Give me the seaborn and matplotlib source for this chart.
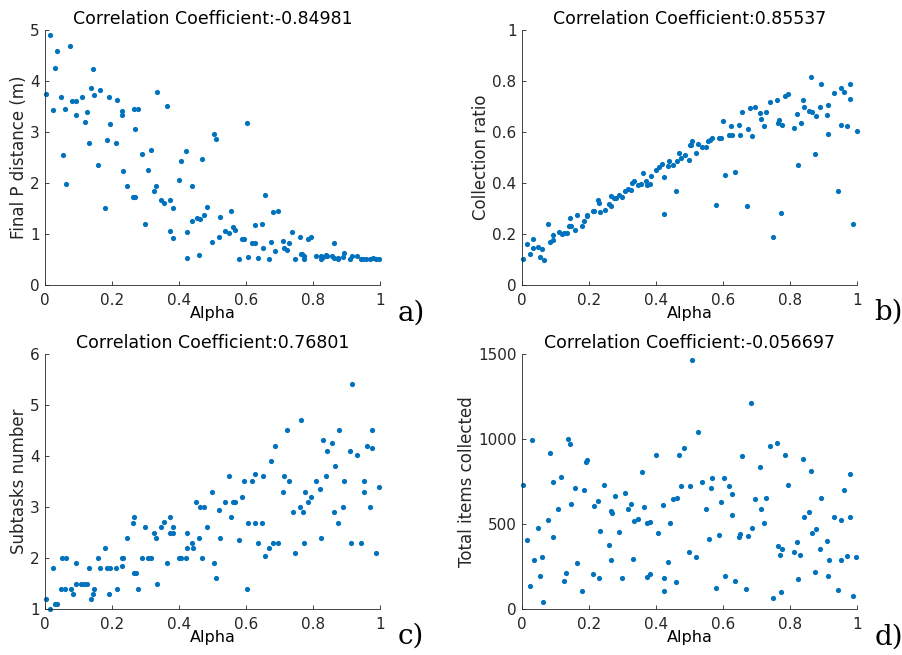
import numpy as np
import pandas as pd
import matplotlib
matplotlib.use("Agg")
import matplotlib.pyplot as plt
import seaborn as sns

# a) final P distance
alpha_a = [0.014, 0.035, 0.076, 0.030, 0.143, 0.002, 0.137, 0.146, 0.164, 0.049,
           0.082, 0.092, 0.110, 0.192, 0.216, 0.025, 0.059, 0.093, 0.124, 0.118,
           0.194, 0.229, 0.229, 0.266, 0.279, 0.335, 0.363, 0.270, 0.131, 0.185,
           0.212, 0.053, 0.157, 0.290, 0.317, 0.308, 0.233, 0.064, 0.246, 0.330,
           0.324, 0.262, 0.268, 0.179, 0.299, 0.346, 0.356, 0.374, 0.382, 0.372,
           0.382, 0.400, 0.407, 0.420, 0.470, 0.440, 0.424, 0.424, 0.459, 0.438,
           0.453, 0.464, 0.474, 0.485, 0.504, 0.510, 0.500, 0.518, 0.522, 0.602,
           0.536, 0.550, 0.556, 0.562, 0.567, 0.578, 0.588, 0.593, 0.607, 0.619,
           0.626, 0.626, 0.635, 0.648, 0.650, 0.657, 0.670, 0.674, 0.682, 0.696,
           0.688, 0.711, 0.713, 0.721, 0.727, 0.738, 0.747, 0.760, 0.764, 0.768,
           0.774, 0.774, 0.784, 0.793, 0.810, 0.823, 0.825, 0.830, 0.840, 0.843,
           0.856, 0.864, 0.862, 0.876, 0.876, 0.890, 0.894, 0.910, 0.916, 0.930,
           0.942, 0.950, 0.959, 0.970, 0.978, 0.988, 0.998]
dist_a = [4.91, 4.59, 4.68, 4.26, 4.24, 3.75, 3.86, 3.72, 3.82, 3.68,
          3.61, 3.61, 3.69, 3.68, 3.62, 3.44, 3.45, 3.33, 3.39, 3.20,
          3.16, 3.41, 3.33, 3.46, 3.46, 3.78, 3.50, 3.05, 2.79, 2.85,
          2.79, 2.54, 2.35, 2.57, 2.65, 2.26, 2.24, 1.99, 1.95, 1.95,
          1.84, 1.72, 1.72, 1.50, 1.19, 1.67, 1.60, 1.67, 1.50, 1.06,
          0.93, 2.05, 2.44, 2.63, 2.48, 1.95, 1.03, 0.52, 0.59, 1.26,
          1.32, 1.29, 1.37, 1.52, 2.97, 2.86, 0.85, 0.95, 1.34, 3.18,
          1.05, 1.01, 1.46, 1.13, 1.07, 0.50, 0.91, 0.90, 0.54, 0.82,
          0.82, 1.17, 0.53, 1.19, 0.73, 1.76, 0.50, 0.84, 1.44, 1.46,
          0.66, 0.86, 0.73, 0.69, 0.82, 1.03, 0.50, 0.94, 0.61, 0.60,
          0.57, 0.50, 0.90, 0.94, 0.56, 0.57, 0.50, 0.55, 0.59, 0.57,
          0.56, 0.53, 0.83, 0.50, 0.53, 0.54, 0.63, 0.51, 0.56, 0.56,
          0.50, 0.50, 0.51, 0.50, 0.52, 0.50, 0.50]

# b) collection ratio
alpha_b = [0.004, 0.014, 0.025, 0.034, 0.033, 0.049, 0.053, 0.061, 0.065, 0.077,
           0.084, 0.092, 0.093, 0.110, 0.118, 0.125, 0.133, 0.140, 0.147, 0.144,
           0.157, 0.163, 0.178, 0.185, 0.193, 0.195, 0.213, 0.216, 0.228, 0.230,
           0.233, 0.247, 0.261, 0.265, 0.267, 0.275, 0.281, 0.289, 0.299, 0.308,
           0.316, 0.324, 0.329, 0.335, 0.347, 0.355, 0.362, 0.371, 0.373, 0.381,
           0.384, 0.400, 0.408, 0.419, 0.425, 0.425, 0.437, 0.440, 0.452, 0.462,
           0.460, 0.470, 0.476, 0.487, 0.499, 0.500, 0.504, 0.508, 0.520, 0.526,
           0.536, 0.550, 0.556, 0.561, 0.568, 0.580, 0.588, 0.593, 0.601, 0.606,
           0.618, 0.626, 0.625, 0.635, 0.648, 0.650, 0.657, 0.671, 0.675, 0.681,
           0.696, 0.687, 0.710, 0.713, 0.722, 0.728, 0.739, 0.748, 0.761, 0.764,
           0.768, 0.776, 0.773, 0.786, 0.793, 0.811, 0.822, 0.824, 0.832, 0.839,
           0.843, 0.856, 0.866, 0.862, 0.876, 0.878, 0.890, 0.893, 0.910, 0.914,
           0.913, 0.930, 0.943, 0.953, 0.961, 0.952, 0.970, 0.978, 0.978, 0.989,
           0.999]
ratio_b = [0.100, 0.160, 0.120, 0.180, 0.145, 0.150, 0.110, 0.140, 0.098, 0.238,
           0.170, 0.176, 0.196, 0.208, 0.200, 0.205, 0.203, 0.233, 0.233, 0.264,
           0.217, 0.276, 0.231, 0.251, 0.270, 0.275, 0.289, 0.289, 0.333, 0.323,
           0.287, 0.295, 0.316, 0.309, 0.348, 0.340, 0.342, 0.354, 0.344, 0.367,
           0.378, 0.374, 0.399, 0.408, 0.392, 0.396, 0.439, 0.407, 0.392, 0.397,
           0.429, 0.450, 0.464, 0.475, 0.422, 0.280, 0.468, 0.485, 0.472, 0.485,
           0.369, 0.519, 0.498, 0.510, 0.489, 0.550, 0.550, 0.563, 0.518, 0.554,
           0.542, 0.541, 0.563, 0.569, 0.575, 0.314, 0.578, 0.575, 0.643, 0.433,
           0.589, 0.587, 0.624, 0.442, 0.629, 0.589, 0.678, 0.310, 0.610, 0.695,
           0.700, 0.584, 0.673, 0.650, 0.624, 0.677, 0.716, 0.187, 0.727, 0.634,
           0.646, 0.626, 0.282, 0.742, 0.749, 0.617, 0.669, 0.472, 0.634, 0.725,
           0.697, 0.684, 0.677, 0.817, 0.512, 0.661, 0.698, 0.788, 0.667, 0.705,
           0.593, 0.754, 0.370, 0.773, 0.756, 0.627, 0.625, 0.787, 0.728, 0.240,
           0.605]

# c) subtasks number
alpha_c = [0.002, 0.014, 0.025, 0.029, 0.036, 0.048, 0.059, 0.052, 0.064, 0.077,
           0.083, 0.092, 0.093, 0.108, 0.117, 0.125, 0.131, 0.137, 0.144, 0.146,
           0.157, 0.164, 0.179, 0.185, 0.194, 0.192, 0.212, 0.216, 0.229, 0.229,
           0.233, 0.246, 0.262, 0.266, 0.266, 0.272, 0.279, 0.290, 0.299, 0.308,
           0.317, 0.324, 0.330, 0.335, 0.346, 0.356, 0.363, 0.372, 0.383, 0.374,
           0.383, 0.400, 0.407, 0.420, 0.424, 0.424, 0.438, 0.441, 0.452, 0.459,
           0.464, 0.474, 0.470, 0.485, 0.500, 0.504, 0.510, 0.518, 0.522, 0.536,
           0.550, 0.556, 0.562, 0.567, 0.578, 0.588, 0.593, 0.602, 0.607, 0.619,
           0.626, 0.626, 0.635, 0.648, 0.650, 0.657, 0.670, 0.674, 0.682, 0.696,
           0.688, 0.711, 0.713, 0.721, 0.727, 0.739, 0.747, 0.760, 0.764, 0.769,
           0.774, 0.776, 0.784, 0.793, 0.810, 0.822, 0.824, 0.830, 0.839, 0.843,
           0.856, 0.863, 0.865, 0.876, 0.878, 0.890, 0.894, 0.910, 0.913, 0.916,
           0.930, 0.943, 0.951, 0.951, 0.960, 0.969, 0.977, 0.977, 0.989, 0.998]
tasks_c = [1.20, 1.00, 1.80, 1.10, 1.10, 1.40, 1.40, 2.00, 2.00, 1.40,
           1.30, 1.90, 1.50, 1.50, 1.50, 1.50, 1.80, 1.20, 1.30, 1.40,
           2.00, 1.80, 2.20, 1.80, 1.80, 1.30, 1.80, 1.40, 1.84, 2.00,
           2.00, 2.40, 2.69, 2.80, 1.70, 1.70, 1.40, 2.00, 2.60, 2.00,
           2.00, 2.50, 2.40, 1.50, 2.60, 2.70, 1.90, 2.50, 2.50, 2.80,
           2.60, 2.00, 2.00, 2.00, 2.50, 2.20, 2.30, 2.20, 3.09, 2.40,
           3.00, 3.00, 2.00, 2.60, 3.29, 1.90, 1.60, 2.95, 2.40, 3.09,
           3.61, 2.80, 3.09, 3.09, 2.35, 3.20, 3.51, 1.40, 2.69, 3.51,
           3.65, 2.69, 2.30, 2.69, 3.61, 2.04, 2.20, 3.91, 2.30, 2.30,
           4.20, 3.29, 3.61, 4.51, 3.51, 2.90, 2.10, 3.00, 4.71, 2.90,
           2.30, 3.29, 3.09, 3.20, 3.51, 3.35, 2.40, 4.31, 3.61, 4.10,
           4.25, 2.90, 3.80, 2.69, 4.51, 3.00, 3.51, 4.10, 2.30, 5.41,
           4.01, 2.30, 3.51, 3.29, 4.20, 3.00, 4.51, 4.15, 2.10, 3.39]

# d) total items collected
alpha_d = [0.002, 0.014, 0.025, 0.031, 0.035, 0.049, 0.053, 0.059, 0.063, 0.077,
           0.083, 0.092, 0.092, 0.108, 0.117, 0.124, 0.130, 0.137, 0.143, 0.145,
           0.157, 0.163, 0.178, 0.185, 0.192, 0.194, 0.211, 0.215, 0.228, 0.229,
           0.233, 0.246, 0.261, 0.266, 0.270, 0.266, 0.279, 0.289, 0.299, 0.308,
           0.317, 0.324, 0.330, 0.335, 0.346, 0.357, 0.363, 0.372, 0.374, 0.383,
           0.383, 0.400, 0.407, 0.420, 0.423, 0.424, 0.437, 0.442, 0.450, 0.463,
           0.459, 0.470, 0.475, 0.484, 0.499, 0.501, 0.508, 0.519, 0.526, 0.537,
           0.550, 0.557, 0.563, 0.567, 0.578, 0.589, 0.593, 0.602, 0.607, 0.619,
           0.626, 0.626, 0.635, 0.649, 0.651, 0.657, 0.670, 0.675, 0.683, 0.687,
           0.696, 0.710, 0.713, 0.722, 0.728, 0.739, 0.748, 0.761, 0.764, 0.769,
           0.775, 0.773, 0.785, 0.793, 0.811, 0.822, 0.830, 0.823, 0.839, 0.843,
           0.857, 0.863, 0.865, 0.876, 0.878, 0.890, 0.893, 0.910, 0.915, 0.913,
           0.930, 0.943, 0.952, 0.952, 0.960, 0.969, 0.978, 0.978, 0.988, 0.998]
items_d = [731, 406, 135, 992, 286, 478, 196, 304, 39, 522,
           916, 745, 424, 586, 778, 167, 210, 1000, 971, 619,
           710, 272, 106, 702, 863, 878, 204, 608, 634, 181,
           461, 731, 376, 578, 565, 286, 663, 453, 181, 680,
           586, 619, 294, 516, 529, 804, 598, 188, 508, 514,
           206, 906, 449, 612, 181, 106, 278, 508, 645, 655,
           157, 906, 724, 945, 333, 724, 1463, 308, 1043, 749,
           586, 410, 714, 771, 124, 435, 628, 771, 196, 724,
           675, 551, 163, 425, 439, 902, 116, 431, 1210, 478,
           645, 837, 586, 504, 655, 957, 65, 975, 372, 316,
           355, 102, 906, 731, 337, 394, 319, 175, 880, 543,
           569, 812, 445, 218, 469, 353, 653, 398, 290, 192,
           543, 112, 524, 286, 700, 312, 794, 539, 76, 308]

titles = ["Correlation Coefficient:-0.84981", "Correlation Coefficient:0.85537",
          "Correlation Coefficient:0.76801", "Correlation Coefficient:-0.056697"]
ylabels = ["Final P distance (m)", "Collection ratio", "Subtasks number",
           "Total items collected"]
letters = ["a)", "b)", "c)", "d)"]

sns.set_theme(style="white")
plt.rcParams['font.family'] = ['DejaVu Sans']
dark = '#262626'
blue = '#0072BD'

fig = plt.figure(figsize=(9.03, 6.55), dpi=100)
W, H = 903, 655
boxes = [(45, 30), (522, 30), (45, 354), (522, 354)]
axes = [fig.add_axes([x0 / W, 1 - (y0 + 255) / H, 335 / W, 255 / H]) for x0, y0 in boxes]

panels = [
    (alpha_a, dist_a, (0, 5), [0, 1, 2, 3, 4, 5], ["0", "1", "2", "3", "4", "5"]),
    (alpha_b, ratio_b, (0, 1), [0, 0.2, 0.4, 0.6, 0.8, 1], ["0", "0.2", "0.4", "0.6", "0.8", "1"]),
    (alpha_c, tasks_c, (1, 6), [1, 2, 3, 4, 5, 6], ["1", "2", "3", "4", "5", "6"]),
    (alpha_d, items_d, (0, 1500), [0, 500, 1000, 1500], ["0", "500", "1000", "1500"]),
]
xt = [0, 0.2, 0.4, 0.6, 0.8, 1]
xtl = ["0", "0.2", "0.4", "0.6", "0.8", "1"]

for i, (ax, (xs, ys, ylim, yt, ytl)) in enumerate(zip(axes, panels)):
    df = pd.DataFrame({'Alpha': xs, 'val': ys})
    sns.scatterplot(data=df, x='Alpha', y='val', ax=ax, color=blue, s=14,
                    linewidth=0, clip_on=False)
    ax.set_xlim(0, 1)
    ax.set_ylim(*ylim)
    ax.set_xticks(xt)
    ax.set_xticklabels(xtl)
    ax.set_yticks(yt)
    ax.set_yticklabels(ytl)
    ax.tick_params(direction='in', length=3, width=0.6, color=dark,
                   labelcolor=dark, labelsize=11, bottom=True, left=True)
    ax.tick_params(axis='x', pad=6)
    ax.tick_params(axis='y', pad=4)
    for side in ['top', 'right']:
        ax.spines[side].set_visible(False)
    for side in ['left', 'bottom']:
        ax.spines[side].set_color(dark)
        ax.spines[side].set_linewidth(0.6)
    ax.set_xlabel('Alpha', fontsize=11.5, color='black', labelpad=-2)
    ax.set_ylabel(ylabels[i], fontsize=12, color=dark, labelpad=1.5)
    ax.set_title(titles[i], fontsize=12.5, color='black', pad=4)

letter_pos = [(411, 313), (889, 312), (411, 636), (889, 637)]
for (lx, ly), t in zip(letter_pos, letters):
    fig.text(lx / W, 1 - ly / H, t, fontsize=20, family='DejaVu Serif',
             ha='center', va='center', color='black')

fig.savefig('out.png', dpi=100, facecolor='white')
